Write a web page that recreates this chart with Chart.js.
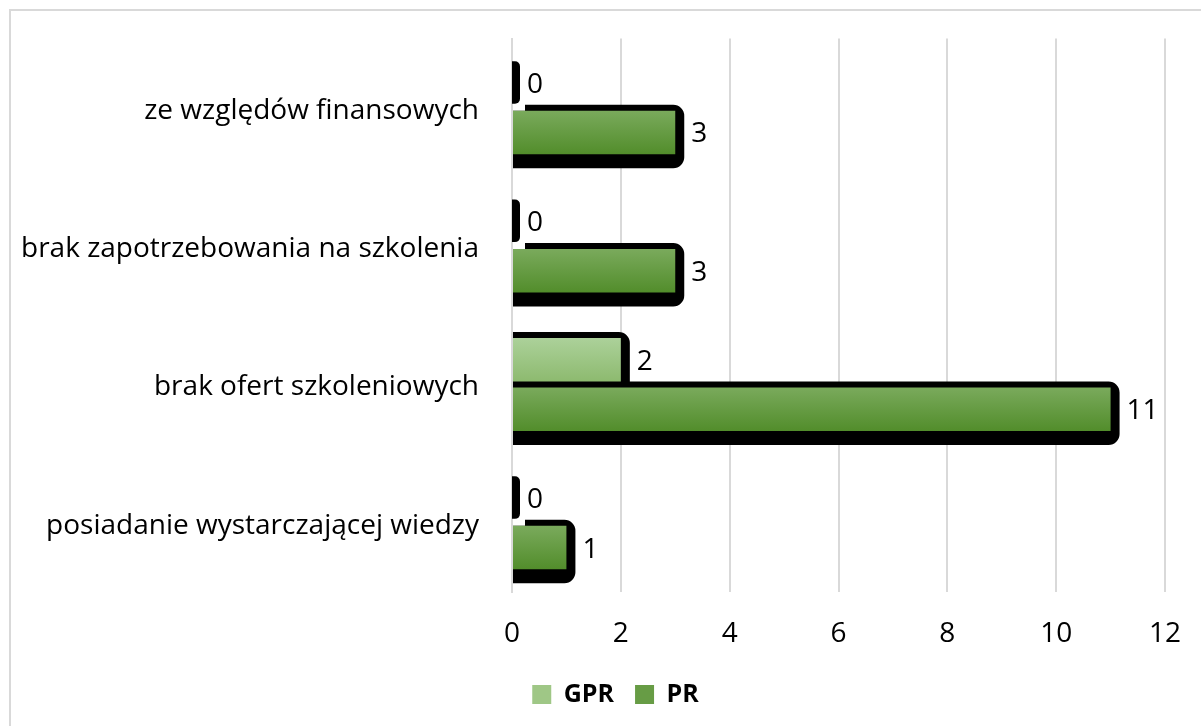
<!DOCTYPE html>
<html>
<head>
<meta charset="utf-8">
<script src="https://cdn.jsdelivr.net/npm/chart.js@4.4.1/dist/chart.umd.min.js"></script>
<style>
  html, body { margin: 0; padding: 0; background: #fff; }
  #wrap { position: relative; width: 1201px; height: 726px; overflow: hidden; }
  #frame { position: absolute; left: 9px; top: 9px; width: 1300px; height: 800px; border: 2px solid #d9d9d9; box-sizing: border-box; }
  canvas { position: absolute; left: 0; top: 0; }
</style>
</head>
<body>
<div id="wrap">
  <div id="frame"></div>
  <canvas id="c" width="1201" height="726"></canvas>
</div>
<script>
const categories = [
  "ze względów finansowych",
  "brak zapotrzebowania na szkolenia",
  "brak ofert szkoleniowych",
  "posiadanie wystarczającej wiedzy"
];
const seriesNames = ["GPR", "PR"];
const gprValues = [0, 0, 2, 0];
const prValues = [3, 3, 11, 1];
const xTicks = [0, 2, 4, 6, 8, 10, 12];

const FONT = "'Open Sans', Lato, sans-serif";
const FS = 28;
const LEGEND_SHIFT = 33;

const gradStops = {
  GPR: ["#acd19a", "#8dba6f"],
  PR: ["#7aaa5c", "#528d2b"]
};

function barGradient(context, name) {
  const el = context.element;
  const chart = context.chart;
  const stops = gradStops[name];
  if (!el || !isFinite(el.y) || !isFinite(el.height)) return stops[1];
  const g = chart.ctx.createLinearGradient(0, el.y - el.height / 2, 0, el.y + el.height / 2);
  g.addColorStop(0, stops[0]);
  g.addColorStop(1, stops[1]);
  return g;
}

const shadowPlugin = {
  id: 'shadowPlugin',
  afterLayout(chart) {
    if (chart.legend) {
      chart.legend.left += LEGEND_SHIFT;
      chart.legend.right += LEGEND_SHIFT;
    }
  },
  beforeDatasetsDraw(chart) {
    const ctx = chart.ctx;
    ctx.save();
    ctx.fillStyle = '#000';
    chart.data.datasets.forEach((ds, di) => {
      const meta = chart.getDatasetMeta(di);
      meta.data.forEach((el) => {
        const top = el.y - el.height / 2;
        const bottom = el.y + el.height / 2;
        const base = el.base;
        const end = el.x;
        ctx.beginPath();
        if (end - base < 1) {
          ctx.roundRect(base, top, 8, bottom - top - 1, [0, 5, 5, 0]);
        } else {
          const inset = di === 1 ? 12 : 0;
          ctx.roundRect(base + inset, top - 6, end + 9 - (base + inset), bottom - top + 20, [0, 11, 11, 0]);
          ctx.rect(base, top, 13, bottom - top + 14);
        }
        ctx.fill();
      });
    });
    ctx.restore();
  },
  afterDatasetsDraw(chart) {
    const ctx = chart.ctx;
    ctx.save();
    ctx.fillStyle = '#000';
    ctx.font = FS + 'px ' + FONT;
    ctx.textAlign = 'left';
    ctx.textBaseline = 'middle';
    chart.data.datasets.forEach((ds, di) => {
      const meta = chart.getDatasetMeta(di);
      meta.data.forEach((el, i) => {
        const v = ds.data[i];
        const off = (el.x - el.base < 1) ? 15 : 16;
        ctx.fillText(String(v), el.x + off, el.y + 2);
      });
    });
    ctx.restore();
  }
};

const chart = new Chart(document.getElementById('c'), {
  type: 'bar',
  data: {
    labels: categories,
    datasets: [
      {
        label: seriesNames[0],
        data: gprValues,
        backgroundColor: (c) => barGradient(c, 'GPR'),
        borderWidth: 0,
        categoryPercentage: 0.715,
        barPercentage: 0.88
      },
      {
        label: seriesNames[1],
        data: prValues,
        backgroundColor: (c) => barGradient(c, 'PR'),
        borderWidth: 0,
        categoryPercentage: 0.715,
        barPercentage: 0.88
      }
    ]
  },
  options: {
    indexAxis: 'y',
    responsive: false,
    animation: false,
    layout: { padding: { left: 0, right: 36, top: 38.5, bottom: 9 } },
    scales: {
      x: {
        min: 0, max: 12,
        afterBuildTicks(scale) { scale.ticks = xTicks.map(v => ({ value: v })); },
        grid: { color: '#d9d9d9', lineWidth: 2, drawTicks: false },
        border: { display: false },
        ticks: { color: '#000', font: { family: FONT, size: FS }, padding: 25 },
        afterFit(scale) { scale.height = 69; scale.paddingLeft = 0; scale.paddingRight = 0; }
      },
      y: {
        grid: { display: false, drawTicks: false },
        border: { display: true, color: '#d9d9d9', width: 2 },
        ticks: { color: '#000', font: { family: FONT, size: FS }, padding: 33, labelOffset: 3 },
        afterFit(scale) { scale.width = 512; scale.paddingTop = 0; scale.paddingBottom = 0; }
      }
    },
    plugins: {
      legend: {
        position: 'bottom',
        labels: {
          boxWidth: 19, boxHeight: 19, padding: 21,
          color: '#000',
          font: { family: FONT, size: 25, weight: 'bold' },
          generateLabels(chart) {
            return chart.data.datasets.map((ds, i) => ({
              text: ds.label,
              fillStyle: i === 0 ? '#9fc786' : '#679c45',
              strokeStyle: 'rgba(0,0,0,0)',
              lineWidth: 0,
              datasetIndex: i
            }));
          }
        }
      },
      tooltip: { enabled: false }
    }
  },
  plugins: [shadowPlugin]
});
chart.update('none');
</script>
</body>
</html>
